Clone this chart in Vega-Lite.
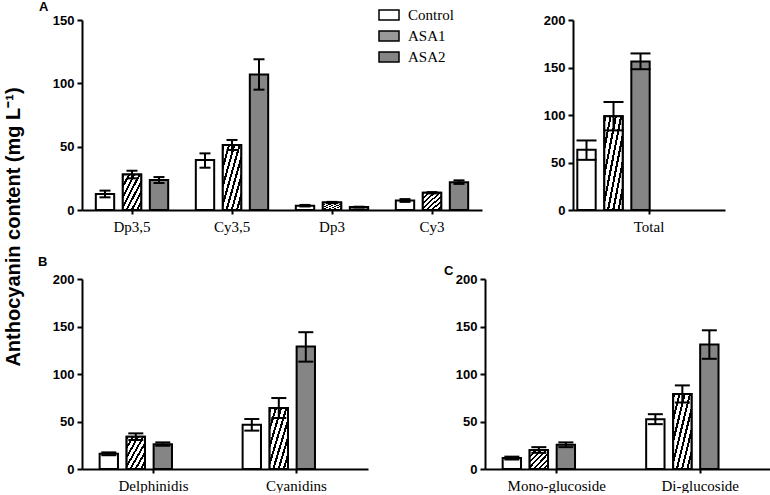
{
  "$schema": "https://vega.github.io/schema/vega-lite/v6.json",
  "background": "white",
  "padding": {"left": 3, "top": 1, "right": 0, "bottom": 0},
  "title": {"text": "Anthocyanin content (mg L⁻¹)", "orient": "left", "anchor": "middle", "font": "Liberation Sans", "fontSize": 20, "fontWeight": "bold", "color": "black", "offset": 14, "dx": 20},
  "datasets": {
    "d": [
      {"panel": "A", "group": "Dp3,5", "treatment": "Control", "value": 12.6, "lo": 10.0, "hi": 15.3},
      {"panel": "A", "group": "Dp3,5", "treatment": "ASA1", "value": 28.0, "lo": 25.0, "hi": 31.0},
      {"panel": "A", "group": "Dp3,5", "treatment": "ASA2", "value": 23.7, "lo": 21.3, "hi": 26.0},
      {"panel": "A", "group": "Cy3,5", "treatment": "Control", "value": 39.5, "lo": 33.4, "hi": 44.7},
      {"panel": "A", "group": "Cy3,5", "treatment": "ASA1", "value": 51.3, "lo": 47.4, "hi": 55.3},
      {"panel": "A", "group": "Cy3,5", "treatment": "ASA2", "value": 107.0, "lo": 95.0, "hi": 119.0},
      {"panel": "A", "group": "Dp3", "treatment": "Control", "value": 3.4, "lo": 2.8, "hi": 4.0},
      {"panel": "A", "group": "Dp3", "treatment": "ASA1", "value": 5.9, "lo": 5.4, "hi": 6.4},
      {"panel": "A", "group": "Dp3", "treatment": "ASA2", "value": 2.3, "lo": 2.0, "hi": 2.6},
      {"panel": "A", "group": "Cy3", "treatment": "Control", "value": 7.5, "lo": 6.4, "hi": 8.6},
      {"panel": "A", "group": "Cy3", "treatment": "ASA1", "value": 13.6, "lo": 13.1, "hi": 14.1},
      {"panel": "A", "group": "Cy3", "treatment": "ASA2", "value": 22.0, "lo": 20.6, "hi": 23.4},
      {"panel": "T", "group": "Total", "treatment": "Control", "value": 63.4, "lo": 52.8, "hi": 73.2},
      {"panel": "T", "group": "Total", "treatment": "ASA1", "value": 98.6, "lo": 83.8, "hi": 113.7},
      {"panel": "T", "group": "Total", "treatment": "ASA2", "value": 156.3, "lo": 148.2, "hi": 164.8},
      {"panel": "B", "group": "Delphinidis", "treatment": "Control", "value": 16.0, "lo": 14.5, "hi": 17.5},
      {"panel": "B", "group": "Delphinidis", "treatment": "ASA1", "value": 34.0, "lo": 30.5, "hi": 37.5},
      {"panel": "B", "group": "Delphinidis", "treatment": "ASA2", "value": 26.0, "lo": 24.5, "hi": 28.0},
      {"panel": "B", "group": "Cyanidins", "treatment": "Control", "value": 46.7, "lo": 40.4, "hi": 52.6},
      {"panel": "B", "group": "Cyanidins", "treatment": "ASA1", "value": 64.2, "lo": 53.7, "hi": 74.7},
      {"panel": "B", "group": "Cyanidins", "treatment": "ASA2", "value": 129.0, "lo": 113.0, "hi": 144.0},
      {"panel": "C", "group": "Mono-glucoside", "treatment": "Control", "value": 11.5, "lo": 10.0, "hi": 13.0},
      {"panel": "C", "group": "Mono-glucoside", "treatment": "ASA1", "value": 20.0, "lo": 17.0, "hi": 23.0},
      {"panel": "C", "group": "Mono-glucoside", "treatment": "ASA2", "value": 25.5, "lo": 23.0, "hi": 28.0},
      {"panel": "C", "group": "Di-glucoside", "treatment": "Control", "value": 52.4, "lo": 47.2, "hi": 57.7},
      {"panel": "C", "group": "Di-glucoside", "treatment": "ASA1", "value": 79.0, "lo": 70.0, "hi": 88.0},
      {"panel": "C", "group": "Di-glucoside", "treatment": "ASA2", "value": 131.0, "lo": 116.0, "hi": 146.0}
    ]
  },
  "config": {
    "view": {"stroke": null},
    "axis": {"domainColor": "black", "domainWidth": 2, "tickColor": "black", "tickWidth": 2, "tickSize": 5, "labelColor": "black", "grid": false},
    "axisY": {"labelFont": "Liberation Sans", "labelFontWeight": "bold", "labelFontSize": 13, "labelPadding": 3},
    "axisX": {"labelFont": "Liberation Serif", "labelFontSize": 15, "labelAngle": 0, "tickSize": 4, "labelPadding": 5},
    "title": {"font": "Liberation Sans", "fontSize": 13, "fontWeight": "bold", "color": "black"},
    "legend": {"labelFont": "Liberation Serif", "labelFontSize": 15, "labelColor": "black", "symbolType": "M-1,-0.5H1V0.5H-1Z", "symbolSize": 400, "rowPadding": 2, "labelOffset": 8}
  },
  "spacing": 22,
  "resolve": {"legend": {"fill": "independent"}},
  "vconcat": [
    {
      "bounds": "flush",
      "spacing": 91,
      "resolve": {"legend": {"fill": "independent"}},
      "hconcat": [
        {
          "data": {"name": "d"},
          "transform": [{"filter": "datum.panel === 'A'"}],
          "title": {"text": "A", "anchor": "start", "frame": "group", "dx": -43, "offset": 0},
          "width": 400, "height": 190,
          "encoding": {
            "x": {"field": "group", "type": "nominal", "sort": null, "title": null, "scale": {"paddingInner": 0.19, "paddingOuter": 0.095}},
            "xOffset": {"field": "treatment", "type": "nominal", "sort": ["Control", "ASA1", "ASA2"], "scale": {"domain": ["Control", "ASA1", "ASA2"], "paddingInner": 0.32, "paddingOuter": 0.16}}
          },
          "layer": [
            {"mark": {"type": "bar", "stroke": "black", "strokeWidth": 2},
             "encoding": {
               "y": {"field": "value", "type": "quantitative", "title": null, "scale": {"domain": [0, 150], "nice": false}, "axis": {"values": [0, 50, 100, 150]}},
               "fill": {"field": "treatment", "type": "nominal", "legend": null,
                 "scale": {"domain": ["Control", "ASA1", "ASA2"], "range": ["white", "#999999", "#858585"]}}
             }},
            {"transform": [{"filter": "datum.treatment === 'ASA1'"}],
             "mark": {"type": "bar", "stroke": "black", "strokeWidth": 2, "fill": {"gradient": "linear", "x1": 0, "y1": 0, "x2": 1, "y2": 1, "stops": [
                   {"offset": 0, "color": "black"}, {"offset": 0.057, "color": "black"}, {"offset": 0.057, "color": "white"}, {"offset": 0.143, "color": "white"},
                   {"offset": 0.143, "color": "black"}, {"offset": 0.2, "color": "black"}, {"offset": 0.2, "color": "white"}, {"offset": 0.286, "color": "white"},
                   {"offset": 0.286, "color": "black"}, {"offset": 0.343, "color": "black"}, {"offset": 0.343, "color": "white"}, {"offset": 0.429, "color": "white"},
                   {"offset": 0.429, "color": "black"}, {"offset": 0.486, "color": "black"}, {"offset": 0.486, "color": "white"}, {"offset": 0.571, "color": "white"},
                   {"offset": 0.571, "color": "black"}, {"offset": 0.629, "color": "black"}, {"offset": 0.629, "color": "white"}, {"offset": 0.714, "color": "white"},
                   {"offset": 0.714, "color": "black"}, {"offset": 0.771, "color": "black"}, {"offset": 0.771, "color": "white"}, {"offset": 0.857, "color": "white"},
                   {"offset": 0.857, "color": "black"}, {"offset": 0.914, "color": "black"}, {"offset": 0.914, "color": "white"}, {"offset": 1, "color": "white"}]}},
             "encoding": {"y": {"field": "value", "type": "quantitative", "title": null}}},
            {"mark": {"type": "rule", "strokeWidth": 2, "color": "black"},
             "encoding": {"y": {"field": "lo", "type": "quantitative", "title": null}, "y2": {"field": "hi"}}},
            {"mark": {"type": "tick", "thickness": 2, "size": 11, "color": "black", "opacity": 1},
             "encoding": {"y": {"field": "lo", "type": "quantitative", "title": null}}},
            {"mark": {"type": "tick", "thickness": 2, "size": 11, "color": "black", "opacity": 1},
             "encoding": {"y": {"field": "hi", "type": "quantitative", "title": null}}}
          ]
        },
        {
          "data": {"name": "d"},
          "transform": [{"filter": "datum.panel === 'T'"}],
          "width": 152, "height": 190,
          "encoding": {
            "x": {"field": "group", "type": "nominal", "sort": null, "title": null, "scale": {"paddingInner": 0, "paddingOuter": 0}},
            "xOffset": {"field": "treatment", "type": "nominal", "sort": ["Control", "ASA1", "ASA2"], "scale": {"domain": ["Control", "ASA1", "ASA2"], "paddingInner": 0.32, "paddingOuter": 0.16}}
          },
          "layer": [
            {"mark": {"type": "bar", "stroke": "black", "strokeWidth": 2},
             "encoding": {
               "y": {"field": "value", "type": "quantitative", "title": null, "scale": {"domain": [0, 200], "nice": false}, "axis": {"values": [0, 50, 100, 150, 200]}},
               "fill": {"field": "treatment", "type": "nominal", "title": null,
                 "scale": {"domain": ["Control", "ASA1", "ASA2"], "range": ["white", "#999999", "#858585"]},
                 "legend": {"orient": "none", "legendX": -195, "legendY": -16, "direction": "vertical",
                   "encode": {"symbols": {
                     "stroke": {"value": "black"},
                     "strokeWidth": {"value": 2}}}}}
             }},
            {"transform": [{"filter": "datum.treatment === 'ASA1'"}],
             "mark": {"type": "bar", "stroke": "black", "strokeWidth": 2, "fill": {"gradient": "linear", "x1": 0, "y1": 0, "x2": 1, "y2": 1, "stops": [
                   {"offset": 0, "color": "black"}, {"offset": 0.057, "color": "black"}, {"offset": 0.057, "color": "white"}, {"offset": 0.143, "color": "white"},
                   {"offset": 0.143, "color": "black"}, {"offset": 0.2, "color": "black"}, {"offset": 0.2, "color": "white"}, {"offset": 0.286, "color": "white"},
                   {"offset": 0.286, "color": "black"}, {"offset": 0.343, "color": "black"}, {"offset": 0.343, "color": "white"}, {"offset": 0.429, "color": "white"},
                   {"offset": 0.429, "color": "black"}, {"offset": 0.486, "color": "black"}, {"offset": 0.486, "color": "white"}, {"offset": 0.571, "color": "white"},
                   {"offset": 0.571, "color": "black"}, {"offset": 0.629, "color": "black"}, {"offset": 0.629, "color": "white"}, {"offset": 0.714, "color": "white"},
                   {"offset": 0.714, "color": "black"}, {"offset": 0.771, "color": "black"}, {"offset": 0.771, "color": "white"}, {"offset": 0.857, "color": "white"},
                   {"offset": 0.857, "color": "black"}, {"offset": 0.914, "color": "black"}, {"offset": 0.914, "color": "white"}, {"offset": 1, "color": "white"}]}},
             "encoding": {"y": {"field": "value", "type": "quantitative", "title": null}}},
            {"mark": {"type": "rule", "strokeWidth": 2, "color": "black"},
             "encoding": {"y": {"field": "lo", "type": "quantitative", "title": null}, "y2": {"field": "hi"}}},
            {"mark": {"type": "tick", "thickness": 2, "size": 20, "color": "black", "opacity": 1},
             "encoding": {"y": {"field": "lo", "type": "quantitative", "title": null}}},
            {"mark": {"type": "tick", "thickness": 2, "size": 20, "color": "black", "opacity": 1},
             "encoding": {"y": {"field": "hi", "type": "quantitative", "title": null}}}
          ]
        }
      ]
    },
    {
      "bounds": "flush",
      "spacing": 117,
      "resolve": {"legend": {"fill": "independent"}},
      "hconcat": [
        {
          "data": {"name": "d"},
          "transform": [{"filter": "datum.panel === 'B'"}],
          "title": {"text": "B", "anchor": "start", "frame": "group", "dx": -44, "offset": 4},
          "width": 286, "height": 190,
          "encoding": {
            "x": {"field": "group", "type": "nominal", "sort": null, "title": null, "scale": {"paddingInner": 0.186, "paddingOuter": 0.093}},
            "xOffset": {"field": "treatment", "type": "nominal", "sort": ["Control", "ASA1", "ASA2"], "scale": {"domain": ["Control", "ASA1", "ASA2"], "paddingInner": 0.32, "paddingOuter": 0.16}}
          },
          "layer": [
            {"mark": {"type": "bar", "stroke": "black", "strokeWidth": 2},
             "encoding": {
               "y": {"field": "value", "type": "quantitative", "title": null, "scale": {"domain": [0, 200], "nice": false}, "axis": {"values": [0, 50, 100, 150, 200]}},
               "fill": {"field": "treatment", "type": "nominal", "legend": null,
                 "scale": {"domain": ["Control", "ASA1", "ASA2"], "range": ["white", "#999999", "#858585"]}}
             }},
            {"transform": [{"filter": "datum.treatment === 'ASA1'"}],
             "mark": {"type": "bar", "stroke": "black", "strokeWidth": 2, "fill": {"gradient": "linear", "x1": 0, "y1": 0, "x2": 1, "y2": 1, "stops": [
                   {"offset": 0, "color": "black"}, {"offset": 0.057, "color": "black"}, {"offset": 0.057, "color": "white"}, {"offset": 0.143, "color": "white"},
                   {"offset": 0.143, "color": "black"}, {"offset": 0.2, "color": "black"}, {"offset": 0.2, "color": "white"}, {"offset": 0.286, "color": "white"},
                   {"offset": 0.286, "color": "black"}, {"offset": 0.343, "color": "black"}, {"offset": 0.343, "color": "white"}, {"offset": 0.429, "color": "white"},
                   {"offset": 0.429, "color": "black"}, {"offset": 0.486, "color": "black"}, {"offset": 0.486, "color": "white"}, {"offset": 0.571, "color": "white"},
                   {"offset": 0.571, "color": "black"}, {"offset": 0.629, "color": "black"}, {"offset": 0.629, "color": "white"}, {"offset": 0.714, "color": "white"},
                   {"offset": 0.714, "color": "black"}, {"offset": 0.771, "color": "black"}, {"offset": 0.771, "color": "white"}, {"offset": 0.857, "color": "white"},
                   {"offset": 0.857, "color": "black"}, {"offset": 0.914, "color": "black"}, {"offset": 0.914, "color": "white"}, {"offset": 1, "color": "white"}]}},
             "encoding": {"y": {"field": "value", "type": "quantitative", "title": null}}},
            {"mark": {"type": "rule", "strokeWidth": 2, "color": "black"},
             "encoding": {"y": {"field": "lo", "type": "quantitative", "title": null}, "y2": {"field": "hi"}}},
            {"mark": {"type": "tick", "thickness": 2, "size": 15, "color": "black", "opacity": 1},
             "encoding": {"y": {"field": "lo", "type": "quantitative", "title": null}}},
            {"mark": {"type": "tick", "thickness": 2, "size": 15, "color": "black", "opacity": 1},
             "encoding": {"y": {"field": "hi", "type": "quantitative", "title": null}}}
          ]
        },
        {
          "data": {"name": "d"},
          "transform": [{"filter": "datum.panel === 'C'"}],
          "title": {"text": "C", "anchor": "start", "frame": "group", "dx": -41, "offset": -5},
          "width": 287, "height": 190,
          "encoding": {
            "x": {"field": "group", "type": "nominal", "sort": null, "title": null, "scale": {"paddingInner": 0.186, "paddingOuter": 0.093}},
            "xOffset": {"field": "treatment", "type": "nominal", "sort": ["Control", "ASA1", "ASA2"], "scale": {"domain": ["Control", "ASA1", "ASA2"], "paddingInner": 0.32, "paddingOuter": 0.16}}
          },
          "layer": [
            {"mark": {"type": "bar", "stroke": "black", "strokeWidth": 2},
             "encoding": {
               "y": {"field": "value", "type": "quantitative", "title": null, "scale": {"domain": [0, 200], "nice": false}, "axis": {"values": [0, 50, 100, 150, 200]}},
               "fill": {"field": "treatment", "type": "nominal", "legend": null,
                 "scale": {"domain": ["Control", "ASA1", "ASA2"], "range": ["white", "#999999", "#858585"]}}
             }},
            {"transform": [{"filter": "datum.treatment === 'ASA1'"}],
             "mark": {"type": "bar", "stroke": "black", "strokeWidth": 2, "fill": {"gradient": "linear", "x1": 0, "y1": 0, "x2": 1, "y2": 1, "stops": [
                   {"offset": 0, "color": "black"}, {"offset": 0.057, "color": "black"}, {"offset": 0.057, "color": "white"}, {"offset": 0.143, "color": "white"},
                   {"offset": 0.143, "color": "black"}, {"offset": 0.2, "color": "black"}, {"offset": 0.2, "color": "white"}, {"offset": 0.286, "color": "white"},
                   {"offset": 0.286, "color": "black"}, {"offset": 0.343, "color": "black"}, {"offset": 0.343, "color": "white"}, {"offset": 0.429, "color": "white"},
                   {"offset": 0.429, "color": "black"}, {"offset": 0.486, "color": "black"}, {"offset": 0.486, "color": "white"}, {"offset": 0.571, "color": "white"},
                   {"offset": 0.571, "color": "black"}, {"offset": 0.629, "color": "black"}, {"offset": 0.629, "color": "white"}, {"offset": 0.714, "color": "white"},
                   {"offset": 0.714, "color": "black"}, {"offset": 0.771, "color": "black"}, {"offset": 0.771, "color": "white"}, {"offset": 0.857, "color": "white"},
                   {"offset": 0.857, "color": "black"}, {"offset": 0.914, "color": "black"}, {"offset": 0.914, "color": "white"}, {"offset": 1, "color": "white"}]}},
             "encoding": {"y": {"field": "value", "type": "quantitative", "title": null}}},
            {"mark": {"type": "rule", "strokeWidth": 2, "color": "black"},
             "encoding": {"y": {"field": "lo", "type": "quantitative", "title": null}, "y2": {"field": "hi"}}},
            {"mark": {"type": "tick", "thickness": 2, "size": 15, "color": "black", "opacity": 1},
             "encoding": {"y": {"field": "lo", "type": "quantitative", "title": null}}},
            {"mark": {"type": "tick", "thickness": 2, "size": 15, "color": "black", "opacity": 1},
             "encoding": {"y": {"field": "hi", "type": "quantitative", "title": null}}}
          ]
        }
      ]
    }
  ]
}
